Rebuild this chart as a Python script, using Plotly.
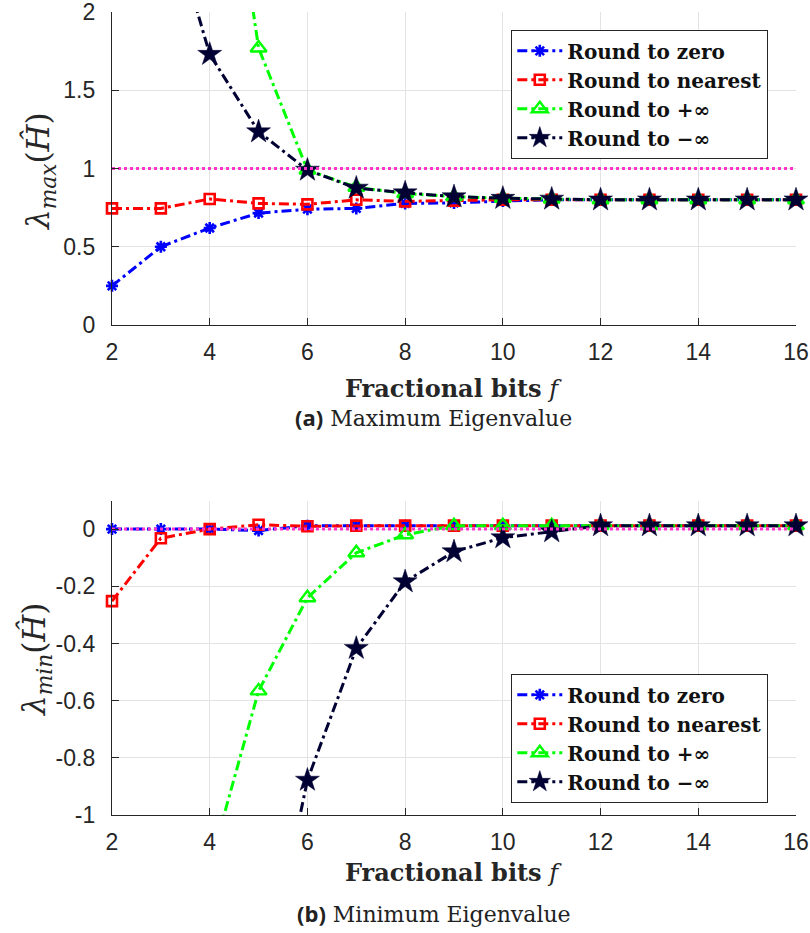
import plotly.graph_objects as go

# Fractional bits on the x axis
fbits = [2, 3, 4, 5, 6, 7, 8, 9, 10, 11, 12, 13, 14, 15, 16]

# Largest eigenvalue of the quantized matrix for each rounding mode
max_round_zero = [0.25, 0.50, 0.62, 0.715, 0.74, 0.745, 0.777, 0.78, 0.792, 0.80, 0.80, 0.80, 0.80, 0.80, 0.80]
max_round_nearest = [0.745, 0.745, 0.805, 0.777, 0.771, 0.80, 0.79, 0.795, 0.80, 0.80, 0.80, 0.80, 0.80, 0.80, 0.80]
max_round_pinf = [15.8, 7.9, 3.9, 1.77, 0.99, 0.88, 0.84, 0.82, 0.81, 0.805, 0.80, 0.80, 0.80, 0.80, 0.80]
max_round_minf = [5.0, 2.8, 1.73, 1.235, 0.99, 0.875, 0.845, 0.82, 0.81, 0.805, 0.80, 0.80, 0.80, 0.80, 0.80]

# Smallest eigenvalue of the quantized matrix for each rounding mode
min_round_zero = [0.0, 0.0, 0.0, -0.005, 0.012, 0.012, 0.012, 0.012, 0.012, 0.012, 0.012, 0.012, 0.012, 0.012, 0.012]
min_round_nearest = [-0.252, -0.032, 0.0, 0.015, 0.01, 0.012, 0.012, 0.012, 0.012, 0.012, 0.012, 0.012, 0.012, 0.012, 0.012]
min_round_pinf = [-2.4, -1.8, -1.18, -0.566, -0.24, -0.083, -0.02, 0.012, 0.012, 0.012, 0.012, 0.012, 0.012, 0.012, 0.012]
min_round_minf = [-4.0, -3.0, -2.4, -1.69, -0.878, -0.417, -0.184, -0.079, -0.03, -0.009, 0.012, 0.012, 0.012, 0.012, 0.012]

# Reference levels (dotted lines)
level_max = 1.0
level_min = 0.0

series_names = ["Round to zero", "Round to nearest", "Round to +∞", "Round to −∞"]

x_ticks = [2, 4, 6, 8, 10, 12, 14, 16]
y_ticks_max = [0, 0.5, 1, 1.5, 2]
y_ticktext_max = ["0", "0.5", "1", "1.5", "2"]
y_ticks_min = [-1, -0.8, -0.6, -0.4, -0.2, 0]
y_ticktext_min = ["-1", "-0.8", "-0.6", "-0.4", "-0.2", "0"]

W, H = 810, 933
X_DOM = [112 / W, 796 / W]
Y_DOM_TOP = [1 - 325 / H, 1 - 12 / H]
Y_DOM_BOT = [1 - 815 / H, 1 - 500.5 / H]

DASHDOT = "10px,4px,3px,4px"
styles = [
    dict(color="#0000ff", symbol="asterisk-open", size=10, mline=2.6, fill="#0000ff"),
    dict(color="#ff0000", symbol="square-open", size=10, mline=2.6, fill="#ff0000"),
    dict(color="#00ff00", symbol="triangle-up-open", size=14, mline=2.4, fill="#00ff00"),
    dict(color="#000033", symbol="star", size=18, mline=0.5, fill="#000033"),
]

fig = go.Figure()


def add_panel(ys, xa, ya, legend, level):
    for name, y, st in zip(series_names, ys, styles):
        fig.add_trace(go.Scatter(
            x=fbits, y=y, name="<b>%s</b>" % name, mode="lines+markers",
            xaxis=xa, yaxis=ya, legend=legend, cliponaxis=False,
            line=dict(color=st["color"], width=3, dash=DASHDOT),
            marker=dict(symbol=st["symbol"], size=st["size"], color=st["fill"],
                        line=dict(color=st["color"], width=st["mline"])),
        ))
    fig.add_trace(go.Scatter(
        x=[fbits[0], fbits[-1]], y=[level, level], mode="lines",
        xaxis=xa, yaxis=ya, showlegend=False, hoverinfo="skip",
        line=dict(color="#ff33cc", width=3, dash="3px,3px"),
    ))


add_panel([max_round_zero, max_round_nearest, max_round_pinf, max_round_minf],
          "x", "y", "legend", level_max)
add_panel([min_round_zero, min_round_nearest, min_round_pinf, min_round_minf],
          "x2", "y2", "legend2", level_min)

tick_font = dict(family="Liberation Sans, Arial, sans-serif", size=23, color="#262626")
axis_common = dict(
    showline=True, linecolor="#262626", linewidth=1.3, mirror=False,
    ticks="inside", ticklen=7, tickcolor="#262626", tickwidth=1.2,
    showgrid=True, gridcolor="#e3e3e3", gridwidth=1,
    zeroline=False, tickfont=tick_font, ticklabeloverflow="allow",
)

fig.update_layout(
    width=W, height=H,
    margin=dict(l=0, r=0, t=0, b=0, autoexpand=False),
    paper_bgcolor="white", plot_bgcolor="white",
    font=dict(family="DejaVu Serif"),
    xaxis=dict(domain=X_DOM, range=[2, 16], tickvals=x_ticks, anchor="y",
               ticklabelstandoff=6, **axis_common),
    yaxis=dict(domain=Y_DOM_TOP, range=[0, 2], tickvals=y_ticks_max,
               ticktext=y_ticktext_max, anchor="x", ticklabelstandoff=11, **axis_common),
    xaxis2=dict(domain=X_DOM, range=[2, 16], tickvals=x_ticks, anchor="y2",
                ticklabelstandoff=6, **axis_common),
    yaxis2=dict(domain=Y_DOM_BOT, range=[-1, 0.1], tickvals=y_ticks_min,
                ticktext=y_ticktext_min, anchor="x2", ticklabelstandoff=11, **axis_common),
    showlegend=True,
)

legend_common = dict(
    xref="paper", yref="paper", xanchor="left", yanchor="top",
    bgcolor="white", bordercolor="#262626", borderwidth=1.3,
    font=dict(family="DejaVu Serif", size=20, color="#111111"),
    itemwidth=45, itemclick=False, itemdoubleclick=False,
)
fig.update_layout(
    legend=dict(x=511 / W, y=1 - 30 / H, **legend_common),
    legend2=dict(x=511 / W, y=1 - 674 / H, **legend_common),
)

serif = "DejaVu Serif, serif"
x_mid = (X_DOM[0] + X_DOM[1]) / 2


def add_text(text, x, y, size, family, angle=0, color="#262626"):
    fig.add_annotation(text=text, x=x, y=y, xref="paper", yref="paper",
                       xanchor="center", yanchor="middle", showarrow=False,
                       textangle=angle, font=dict(family=family, size=size, color=color))


# Axis titles
add_text("<b>Fractional bits</b> <i>f</i>", x_mid, 1 - 388 / H, 24, serif)
add_text("<b>Fractional bits</b> <i>f</i>", x_mid, 1 - 872 / H, 24, serif)
add_text("<i>λ</i><sub><i>max</i></sub>(<i>Ĥ</i>)", 40 / W, 1 - 172 / H, 31, serif, -90)
add_text("<i>λ</i><sub><i>min</i></sub>(<i>Ĥ</i>)", 36 / W, 1 - 660 / H, 31, serif, -90)

# Panel captions
cap = '<span style="font-family:Open Sans;font-weight:bold">(%s)</span> %s'
add_text(cap % ("a", "Maximum Eigenvalue"), 434 / W, 1 - 417 / H, 22, serif, color="#222222")
add_text(cap % ("b", "Minimum Eigenvalue"), 434 / W, 1 - 913 / H, 22, serif, color="#222222")

fig.write_html("out.html")
